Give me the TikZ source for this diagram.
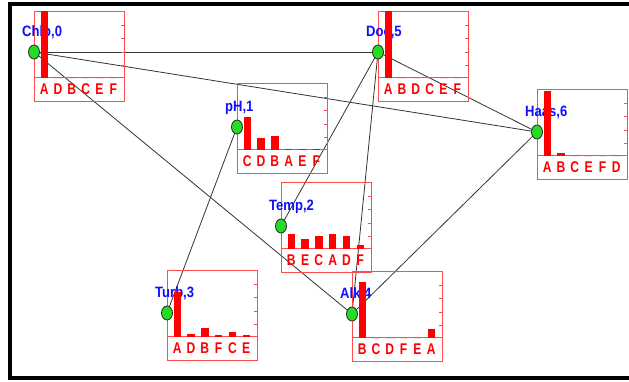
\documentclass[tikz,border=0pt]{standalone}
\usepackage{fontspec}
\setmainfont{Liberation Sans}
\usepackage{graphicx}
\usetikzlibrary{shapes.geometric}
\pgfdeclarelayer{edges}
\pgfdeclarelayer{front}
\pgfsetlayers{edges,main,front}
\definecolor{boxred}{RGB}{255,75,75}
\definecolor{barred}{RGB}{255,0,0}
\definecolor{lblblue}{RGB}{15,15,255}
\definecolor{dotgreen}{RGB}{35,220,35}
\tikzset{
  dot/.style={ellipse, minimum width=11pt, minimum height=14pt, inner sep=0pt,
    fill=dotgreen, draw=black!85, line width=0.8pt},
  edge/.style={draw=black!80, line width=0.8pt},
  boxline/.style={draw=boxred, line width=1pt},
  lbl/.style={text=lblblue, font=\bfseries\fontsize{15}{15}\selectfont,
    anchor=base west, inner sep=0pt},
  letter/.style={text=barred, font=\bfseries\fontsize{15.5}{15.5}\selectfont,
    anchor=base, inner sep=0pt},
  frame/.style={draw=black, line width=4pt, line join=miter},
}
% #1 name, #2 box left x, #3 box top y, #4 dot y, #5 label, #6 list letter/height
\newcommand\mychart[6]{%
  \begin{pgfonlayer}{front}
    \node[dot] (#1) at (#2,#4) {};
  \end{pgfonlayer}
  \draw[boxline] (#2,#3) rectangle ({#2+90},{#3+90});
  \draw[boxline] (#2,{#3+66.5}) -- ++(90,0);
  \foreach \t in {14,27,41,54}{\draw[boxline] ({#2+90},{#3+\t}) -- ++(-3,0);}
  \node[lbl] at ({#2-12},{#4-16}) {\scalebox{0.87}[1]{#5}};
  \foreach \L/\h [count=\i from 0] in {#6}{%
    \fill[barred] ({#2+6.5+13.8*\i},{#3+66.5}) rectangle ++(7.5,{-\h});
    \node[letter] at ({#2+10.25+13.8*\i},{#3+83.5}) {\scalebox{0.78}[1]{\L}};
  }%
}
\begin{document}
\begin{tikzpicture}[x=1pt,y=-1pt]
  \useasboundingbox (0,0) rectangle (629,381);
  \begin{pgfonlayer}{edges}
    \fill[white] (0,0) rectangle (629,381);
  \end{pgfonlayer}
  \draw[frame] (631,4) -- (10,4) -- (10,378) -- (631,378);

  \mychart{chlo}{34}{11}{52}{Chlo,0}{A/66.5,D/0,B/0,C/0,E/0,F/0}
  \mychart{doc}{378}{11}{52}{Doc,5}{A/66.5,B/0,D/0,C/0,E/0,F/0}
  \mychart{ph}{237}{83}{127}{pH,1}{C/33,D/12,B/14,A/1,E/1,F/1}
  \mychart{haas}{537}{89}{132}{Haas,6}{A/65,B/2.5,C/0,E/0,F/0,D/0}
  \mychart{temp}{281}{182}{226}{Temp,2}{B/15,E/10,C/13,A/15,D/13,F/4}
  \mychart{turb}{167}{270}{313}{Turb,3}{A/45,D/3,B/9,F/2,C/5,E/2}
  \mychart{alk}{352}{271}{314}{Alk,4}{B/56,C/0,D/0,F/0,E/0,A/9}

  \begin{pgfonlayer}{edges}
    \draw[edge] (chlo.center) -- (doc.center);
    \draw[edge] (chlo.center) -- (haas.center);
    \draw[edge] (chlo.center) -- (alk.center);
    \draw[edge] (doc.center) -- (haas.center);
    \draw[edge] (doc.center) -- (temp.center);
    \draw[edge] (doc.center) -- (alk.center);
    \draw[edge] (ph.center) -- (turb.center);
    \draw[edge] (haas.center) -- (alk.center);
  \end{pgfonlayer}
\end{tikzpicture}
\end{document}
